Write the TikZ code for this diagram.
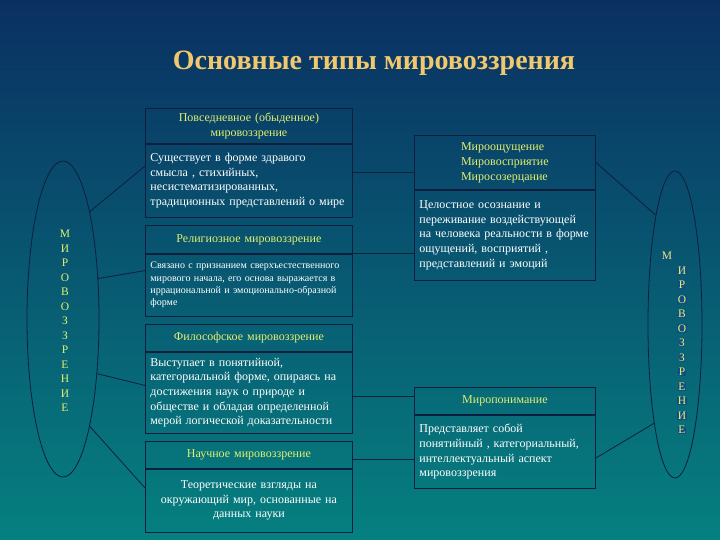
\documentclass[tikz,border=0pt]{standalone}
\usepackage{fontspec}
\setmainfont{Liberation Serif}
\usetikzlibrary{shapes.geometric}

\definecolor{bgtop}{RGB}{10,48,98}
\definecolor{bgbot}{RGB}{6,128,128}
\definecolor{rama}{RGB}{14,30,62}
\definecolor{zagolovok}{RGB}{225,240,110}
\definecolor{titul}{RGB}{240,200,110}
\definecolor{bukvafon}{RGB}{16,78,130}

\begin{document}
\begin{tikzpicture}[x=1pt, y=-1pt,
    ramka/.style={draw=rama, line width=0.8pt, rectangle, anchor=north west, inner xsep=5pt, inner ysep=2pt},
    levaya/.style={ramka, text width=197pt},
    pravaya/.style={ramka, text width=171pt},
    shapka/.style={align=center, text=zagolovok, font=\fontsize{12}{15}\selectfont},
    tekst/.style={align=left, text=white, font=\fontsize{12}{14.6}\selectfont},
    melkiy/.style={align=left, text=white, font=\fontsize{10}{12.3}\selectfont},
    oval/.style={draw=rama, line width=0.8pt, ellipse, inner sep=0pt},
    bukva/.style={text=zagolovok, font=\fontsize{11.5}{12}\selectfont, inner sep=0.6pt},
    svyaz/.style={draw=rama, line width=0.8pt}
]

    % фон
    \fill[top color=bgtop, bottom color=bgbot] (0,0) rectangle (720,540);

    % заголовок
    \node[text=titul, font=\bfseries\fontsize{28}{32}\selectfont] (titul) at (374,63) {Основные типы мировоззрения};

    % --------------------------
    % левый столбец
    % --------------------------
    \node[levaya, shapka, minimum height=35pt] (povsed) at (145,108) {Повседневное (обыденное)\\ мировоззрение};
    \node[levaya, tekst, minimum height=73pt] (povsedT) at (povsed.south west) {Существует в форме здравого\\ смысла , стихийных,\\ несистематизированных,\\ традиционных представлений о мире};

    \node[levaya, shapka, minimum height=28pt] (relig) at (145,225) {Религиозное мировоззрение};
    \node[levaya, melkiy, minimum height=62pt] (religT) at (relig.south west) {Связано с признанием сверхъестественного\\ мирового начала, его основа выражается в\\ иррациональной и эмоционально-образной\\ форме};

    \node[levaya, shapka, minimum height=27pt] (filos) at (145,324) {Философское мировоззрение};
    \node[levaya, tekst, minimum height=81pt] (filosT) at (filos.south west) {Выступает в понятийной,\\ категориальной форме, опираясь на\\ достижения наук о природе и\\ обществе и обладая определенной\\ мерой логической доказательности};

    \node[levaya, shapka, minimum height=27pt] (nauch) at (145,441) {Научное мировоззрение};
    \node[levaya, tekst, align=center, minimum height=63pt] (nauchT) at (nauch.south west) {Теоретические взгляды на\\ окружающий мир, основанные на\\ данных науки};

    % --------------------------
    % правый столбец
    % --------------------------
    \node[ramka, shapka, align=left, minimum width=181pt, minimum height=54pt] (oshch) at (414,135) {Мироощущение\\ Мировосприятие\\ Миросозерцание};
    \node[pravaya, tekst, minimum height=90pt] (oshchT) at (oshch.south west) {Целостное осознание и\\ переживание воздействующей\\ на человека реальности в форме\\ ощущений, восприятий ,\\ представлений и эмоций};

    \node[pravaya, shapka, minimum height=27pt] (ponim) at (414,387) {Миропонимание};
    \node[pravaya, tekst, minimum height=73pt] (ponimT) at (ponim.south west) {Представляет собой\\ понятийный , категориальный,\\ интеллектуальный аспект\\ мировоззрения};

    % --------------------------
    % овалы
    % --------------------------
    \node[oval, minimum width=72pt, minimum height=316pt] (levoval) at (63,319) {};
    \foreach \b [count=\i] in {М,И,Р,О,В,О,З,З,Р,Е,Н,И,Е}
        \node[bukva] (lb\i) at (65, 219.5+14.5*\i) {\b};

    \node[oval, minimum width=54pt, minimum height=307pt] (pravoval) at (675,324.5) {};
    \node[bukva, fill=bukvafon] (pb0) at (667,256) {М};
    \foreach \b [count=\i] in {И,Р,О,В,О,З,З,Р,Е,Н,И,Е}
        \node[bukva, fill=bukvafon] (pb\i) at (682, 256+14.5*\i) {\b};

    % связи
    \draw[svyaz] (levoval.76) -- (povsedT.172);
    \draw[svyaz] (levoval.49) -- (religT.172);
    \draw[svyaz] (levoval.-58) -- (filosT.176);
    \draw[svyaz] (levoval.-76) -- (nauchT.173);

    \draw[svyaz] (povsedT.east |- oshch.186) -- (oshch.186);
    \draw[svyaz] (religT.north east) -- (religT.north east -| oshchT.west);
    \draw[svyaz] (filosT.east |- ponim.177) -- (ponim.177);
    \draw[svyaz] (nauch.east |- ponimT.185) -- (ponimT.185);

    \draw[svyaz] (oshch.east) -- (pravoval.100);
    \draw[svyaz] (ponimT.-4) -- (pravoval.258);

\end{tikzpicture}
\end{document}
